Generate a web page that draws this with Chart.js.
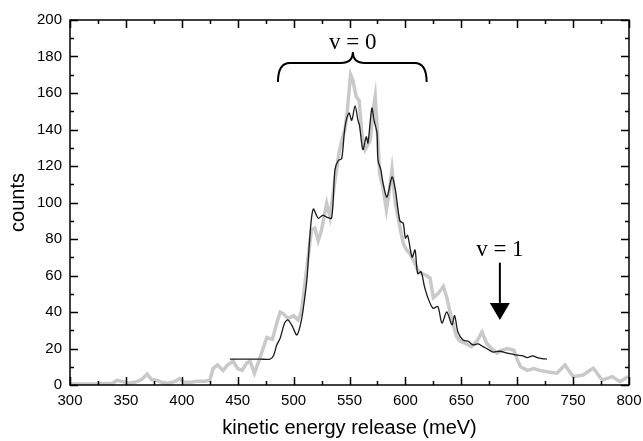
<!DOCTYPE html>
<html>
<head>
<meta charset="utf-8">
<script src="https://cdn.jsdelivr.net/npm/chart.js@4.4.1/dist/chart.umd.min.js"></script>
<style>
  html, body { margin: 0; padding: 0; background: #fff; }
</style>
</head>
<body>
<canvas id="chart" width="643" height="441"></canvas>
<script>
// measured spectrum (grey, thick)
const measEnergy = [300, 310, 320, 330, 338, 342, 347, 352, 358, 364, 369, 373, 378, 382, 388, 394, 398, 402, 408, 414,
  420, 425, 428, 432, 437, 441, 446, 450, 454, 458, 461, 465, 470, 476, 481, 485, 488, 491, 495, 500,
  504, 507, 510, 513, 516, 519, 522, 525, 529.6, 532.6, 537, 540.6, 544, 546, 548, 551, 553, 556, 558.6, 561,
  564, 568.6, 571, 573, 575, 577, 580, 583, 586, 588, 591, 595, 598, 601, 604, 607, 611, 615, 619, 622,
  625, 629, 634, 637, 641.6, 645.7, 649, 653, 659, 664, 668.5, 672.5, 677, 682, 686, 691, 697, 700, 703, 709,
  715, 720, 726.6, 735.6, 742.7, 750, 759, 768, 776, 785, 792, 799];
const measCounts = [0.5, 0.5, 0.5, 0.8, 1, 2.5, 2, 1, 1.5, 3, 6, 3, 2.5, 1.5, 1, 2, 3.5, 1.5, 1.5, 2,
  2, 2.5, 9, 11, 8, 11, 13, 9, 8, 12, 13, 6.5, 15, 26, 25, 34, 40, 39, 36.5, 38,
  35.6, 40, 55, 70, 85, 86, 79, 85, 99.5, 92, 112, 127, 136, 140, 150, 170, 167, 158, 156, 138,
  129, 134, 150, 158, 138, 116, 108, 96, 108, 118, 99.5, 86.8, 77.8, 74, 72, 68.5, 63, 61, 60, 58.6,
  48, 50, 54, 48, 35.6, 26.5, 24, 23, 21, 24, 29, 23, 20, 17.5, 19, 20, 19, 14, 10, 8,
  9, 8, 7.3, 6.5, 11, 4.6, 5.5, 9.3, 2.7, 4.6, 1.8, 4.6];

// simulated spectrum (black, thin)
const simEnergy = [443, 450, 460, 470, 479, 482, 485, 488, 492, 495, 499, 503, 507, 510, 512, 515, 517.6, 522, 526, 529.6,
  534, 537, 540, 543, 546, 549.6, 552, 555, 557.6, 559, 562, 565, 566.5, 570, 572, 574.6, 575.5, 578, 580, 583.5,
  588, 591, 595, 598, 600, 602, 606, 608.6, 611, 614, 617, 620, 624.7, 629, 632.7, 637, 641.6, 644, 647, 651.5,
  656, 660.5, 665, 669.5, 674, 678.5, 684, 691, 695, 700, 705, 709, 714, 718, 722, 726.6];
const simCounts = [14.2, 14.2, 14.2, 14.2, 14.2, 16, 22, 25.7, 34, 35.6, 32, 27.4, 35.6, 48, 58.6, 85, 96.4, 91.4, 93, 92,
  91.5, 118, 123, 124, 141.5, 149, 145, 153, 145, 142, 129, 136, 132.6, 151.7, 145, 138, 123, 118, 110.6, 103,
  114, 107, 90, 88.6, 80.5, 82, 70, 74, 61, 62, 54, 48, 42, 43, 34, 40, 33, 38, 29, 24.6,
  24, 22, 22.5, 21, 19.5, 18, 18.5, 17.5, 17, 16.4, 16, 15, 16, 15, 14.5, 14.2];

const xMin = 300, xMax = 800, xStep = 50;
const yMin = 0, yMax = 200, yStep = 20;

const toPoints = (xs, ys) => xs.map((x, i) => ({ x, y: ys[i] }));

// inward tick marks and box frame on all four sides
const frameTicks = {
  id: 'frameTicks',
  afterDraw(chart) {
    const { ctx, chartArea: a, scales: { x, y } } = chart;
    ctx.save();
    ctx.strokeStyle = '#000';
    ctx.lineWidth = 1.5;
    ctx.strokeRect(a.left, a.top, a.right - a.left, a.bottom - a.top);
    ctx.beginPath();
    for (let v = xMin; v <= xMax; v += xStep / 2) {
      const len = v % xStep === 0 ? 8 : 4;
      const px = Math.round(x.getPixelForValue(v)) + 0.5;
      ctx.moveTo(px, a.bottom); ctx.lineTo(px, a.bottom - len);
      ctx.moveTo(px, a.top); ctx.lineTo(px, a.top + len);
    }
    for (let v = yMin; v <= yMax; v += yStep / 2) {
      const len = v % yStep === 0 ? 8 : 4;
      const py = Math.round(y.getPixelForValue(v)) + 0.5;
      ctx.moveTo(a.left, py); ctx.lineTo(a.left + len, py);
      ctx.moveTo(a.right, py); ctx.lineTo(a.right - len, py);
    }
    ctx.stroke();
    ctx.restore();
  }
};

// "v = 0" brace and "v = 1" arrow
const labels = {
  id: 'labels',
  afterDatasetsDraw(chart) {
    const { ctx, scales: { x, y } } = chart;
    ctx.save();
    ctx.strokeStyle = '#000';
    ctx.fillStyle = '#000';
    ctx.lineWidth = 2;

    // brace over v = 0
    const xl = x.getPixelForValue(486), xr = x.getPixelForValue(619), xm = x.getPixelForValue(553);
    const yEnd = y.getPixelForValue(166), yArm = y.getPixelForValue(176.5), yTip = y.getPixelForValue(182.5);
    const r = 12;
    ctx.beginPath();
    ctx.moveTo(xl, yEnd);
    ctx.quadraticCurveTo(xl, yArm, xl + r, yArm);
    ctx.lineTo(xm - r, yArm);
    ctx.quadraticCurveTo(xm, yArm, xm, yTip);
    ctx.quadraticCurveTo(xm, yArm, xm + r, yArm);
    ctx.lineTo(xr - r, yArm);
    ctx.quadraticCurveTo(xr, yArm, xr, yEnd);
    ctx.stroke();

    ctx.font = '23px "Liberation Serif", serif';
    ctx.textAlign = 'center';
    ctx.textBaseline = 'middle';
    ctx.fillText('v = 0', xm, y.getPixelForValue(187.5));

    // arrow at v = 1
    const ax = x.getPixelForValue(684.5);
    ctx.fillText('v = 1', ax, y.getPixelForValue(74));
    ctx.beginPath();
    ctx.moveTo(ax, y.getPixelForValue(67));
    ctx.lineTo(ax, y.getPixelForValue(45));
    ctx.stroke();
    ctx.beginPath();
    ctx.moveTo(ax - 10, y.getPixelForValue(45));
    ctx.lineTo(ax + 10, y.getPixelForValue(45));
    ctx.lineTo(ax, y.getPixelForValue(35.6));
    ctx.closePath();
    ctx.fill();
    ctx.restore();
  }
};

const whiteBg = {
  id: 'whiteBg',
  beforeDraw(chart) {
    const { ctx, width, height } = chart;
    ctx.save();
    ctx.fillStyle = '#fff';
    ctx.fillRect(0, 0, width, height);
    ctx.restore();
  }
};

const tickFont = { family: '"Liberation Sans", Arial, sans-serif', size: 15 };
const titleFont = { family: '"Liberation Sans", Arial, sans-serif', size: 20 };

new Chart(document.getElementById('chart').getContext('2d'), {
  type: 'line',
  data: {
    datasets: [
      {
        label: 'simulation',
        data: toPoints(simEnergy, simCounts),
        borderColor: '#1a1a1a',
        borderWidth: 1.3,
        pointRadius: 0,
        tension: 0.3,
        order: 1
      },
      {
        label: 'measurement',
        data: toPoints(measEnergy, measCounts),
        borderColor: '#c9c9c9',
        borderWidth: 3.5,
        pointRadius: 0,
        tension: 0,
        order: 2
      }
    ]
  },
  options: {
    responsive: false,
    animation: false,
    devicePixelRatio: 1,
    layout: { padding: { left: 0, right: 14, top: 20, bottom: 0 } },
    plugins: {
      legend: { display: false },
      tooltip: { enabled: false }
    },
    scales: {
      x: {
        type: 'linear',
        min: xMin,
        max: xMax,
        grid: { display: false, drawTicks: false },
        border: { display: false },
        ticks: {
          stepSize: xStep,
          color: '#000',
          font: tickFont,
          padding: 7,
          maxRotation: 0
        },
        title: {
          display: true,
          text: 'kinetic energy release (meV)',
          color: '#000',
          font: titleFont,
          padding: { top: 4, bottom: 1 }
        },
        afterFit(scale) {
          scale.height = 56;
          scale.paddingLeft = 0;
          scale.paddingRight = 0;
        }
      },
      y: {
        min: yMin,
        max: yMax,
        grid: { display: false, drawTicks: false },
        border: { display: false },
        ticks: {
          stepSize: yStep,
          color: '#000',
          font: tickFont,
          padding: 8
        },
        title: {
          display: true,
          text: 'counts',
          color: '#000',
          font: titleFont,
          padding: { top: 6, bottom: 0 }
        },
        afterFit(scale) {
          scale.width = 70;
          scale.paddingTop = 0;
          scale.paddingBottom = 0;
        }
      }
    }
  },
  plugins: [whiteBg, frameTicks, labels]
});
</script>
</body>
</html>
